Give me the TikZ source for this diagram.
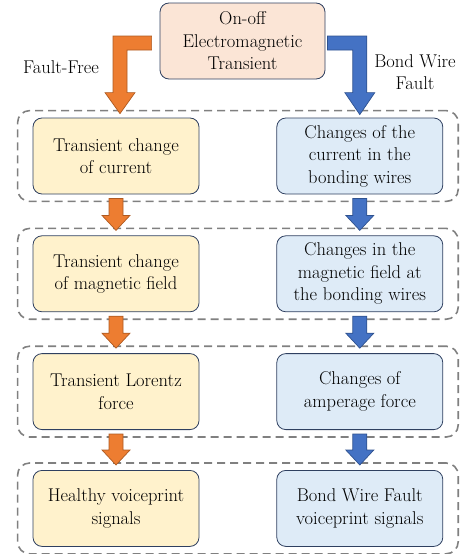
\documentclass[tikz,border=0pt]{standalone}
\usetikzlibrary{positioning, fit, calc}
\definecolor{sourcefill}{RGB}{251,229,214}
\definecolor{healthyfill}{RGB}{255,242,204}
\definecolor{faultfill}{RGB}{222,235,247}
\definecolor{boxborder}{RGB}{47,64,96}
\definecolor{healthyarrow}{RGB}{237,125,49}
\definecolor{healthyedge}{RGB}{174,90,33}
\definecolor{faultarrow}{RGB}{68,114,196}
\definecolor{faultedge}{RGB}{47,82,143}
\definecolor{groupgray}{RGB}{128,128,128}
\tikzset{
  % Source box (top)
  sourcebox/.style={
    rectangle, rounded corners=9pt,
    minimum width=165pt, minimum height=76pt,
    fill=sourcefill, draw=boxborder, line width=0.8pt,
    font=\fontsize{18.5}{22.5}\selectfont, align=center, inner sep=1pt
  },
  % Fault-free chain box
  healthybox/.style={
    rectangle, rounded corners=9pt,
    minimum width=166pt, minimum height=76pt,
    fill=healthyfill, draw=boxborder, line width=0.8pt,
    font=\fontsize{18.5}{22.5}\selectfont, align=center, inner sep=1pt
  },
  % Bond wire fault chain box
  faultbox/.style={
    rectangle, rounded corners=9pt,
    minimum width=166pt, minimum height=76pt,
    fill=faultfill, draw=boxborder, line width=0.8pt,
    font=\fontsize{18.5}{22.5}\selectfont, align=center, inner sep=1pt
  },
  % Dashed stage frame
  stageframe/.style={
    rectangle, rounded corners=12pt, draw=groupgray, line width=1.6pt,
    dash pattern=on 8pt off 5pt, inner xsep=15pt, inner ysep=7pt
  },
  % Block arrows
  healthyarr/.style={fill=healthyarrow, draw=healthyedge, line width=0.7pt},
  faultarr/.style={fill=faultarrow, draw=faultedge, line width=0.7pt},
  % Branch label
  branchlabel/.style={font=\fontsize{18.5}{22.5}\selectfont, align=center},
}
% straight block arrow from bottom of one box to top of the next
\newcommand{\blockdown}[3]{%
  \draw[#1] let \p1=(#2), \p2=(#3) in
    (\x1-7pt,\y1-4pt) -- (\x1-7pt,\y2+20pt) -- (\x1-14pt,\y2+20pt) --
    (\x1,\y2+5pt) -- (\x1+14pt,\y2+20pt) -- (\x1+7pt,\y2+20pt) --
    (\x1+7pt,\y1-4pt) -- cycle;}

\begin{document}
\begin{tikzpicture}[x=1pt, y=-1pt, node distance=41pt and 77pt]
  \useasboundingbox (0,0) rectangle (466,554);

  \node[sourcebox] (src) at (242.5,41) {On-off\\Electromagnetic\\Transient};

  \node[healthybox] (h1) at (116,156) {Transient change\\of current};
  \node[faultbox, right=of h1] (f1) {Changes of the\\current in the\\bonding wires};
  \node[healthybox, below=of h1] (h2) {Transient change\\of magnetic field};
  \node[faultbox, right=of h2] (f2) {Changes in the\\magnetic field at\\the bonding wires};
  \node[healthybox, below=of h2] (h3) {Transient Lorentz\\force};
  \node[faultbox, right=of h3] (f3) {Changes of\\amperage force};
  \node[healthybox, below=40pt of h3] (h4) {Healthy voiceprint\\signals};
  \node[faultbox, right=of h4] (f4) {Bond Wire Fault\\voiceprint signals};

  % stage frames
  \node[stageframe, fit=(h1)(f1)] (s1) {};
  \node[stageframe, fit=(h2)(f2)] (s2) {};
  \node[stageframe, fit=(h3)(f3)] (s3) {};
  \node[stageframe, fit=(h4)(f4)] (s4) {};

  % branch labels
  \node[branchlabel] (lfree) at (61,67) {Fault-Free};
  \node[branchlabel] (lfault) at (415,72) {Bond Wire\\Fault};

  % elbow arrows out of the source
  \draw[healthyarr] let \p1=(src.west), \p2=(h1.north) in
    (\x1-8pt,\y1+5pt) -- (\x2-3pt,\y1+5pt) -- (\x2-3pt,\y2+25pt) --
    (\x2-11pt,\y2+25pt) -- (\x2+4pt,\y2+4pt) -- (\x2+19pt,\y2+25pt) --
    (\x2+11pt,\y2+25pt) -- (\x2+11pt,\y1-9pt) -- (\x1-8pt,\y1-9pt) -- cycle;
  \draw[faultarr] let \p1=(src.east), \p2=(f1.north) in
    (\x1+2pt,\y1+5pt) -- (\x2+7pt,\y1+5pt) -- (\x2+7pt,\y2+25pt) --
    (\x2+15pt,\y2+25pt) -- (\x2,\y2+3pt) -- (\x2-15pt,\y2+25pt) --
    (\x2-7pt,\y2+25pt) -- (\x2-7pt,\y1-9pt) -- (\x1+2pt,\y1-9pt) -- cycle;

  % arrows between stages
  \foreach \a/\b in {1/2, 2/3, 3/4} {
    \blockdown{healthyarr}{h\a.south}{h\b.north}
    \blockdown{faultarr}{f\a.south}{f\b.north}
  }
\end{tikzpicture}
\end{document}
